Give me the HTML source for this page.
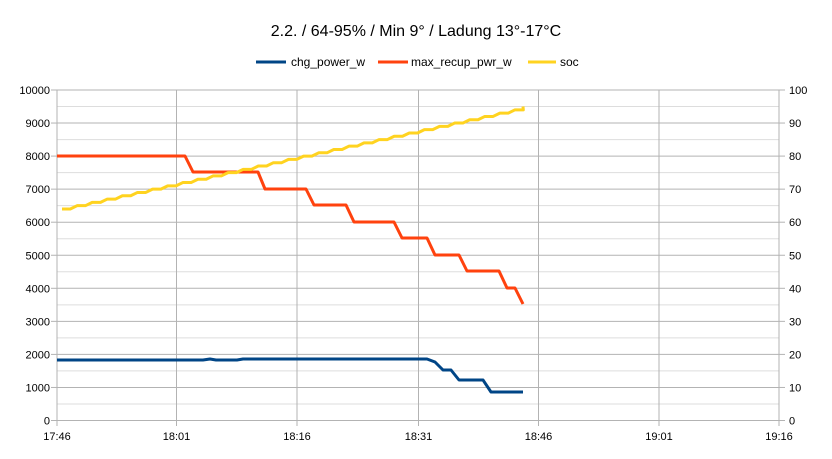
<!DOCTYPE html>
<html><head><meta charset="utf-8"><style>
body{margin:0;background:#fff;}
svg text{font-family:"Liberation Sans",sans-serif;fill:#000;}
</style></head><body>
<svg id="s" width="832" height="454" xmlns="http://www.w3.org/2000/svg">
<rect width="832" height="454" fill="#fff"/>
<text x="416" y="36" font-size="16" text-anchor="middle">2.2. / 64-95% / Min 9° / Ladung 13°-17°C</text>
<line x1="256" y1="62" x2="286" y2="62" stroke="#004586" stroke-width="3"/>
<text x="291" y="66" font-size="12">chg_power_w</text>
<line x1="378" y1="62" x2="408" y2="62" stroke="#ff420e" stroke-width="3"/>
<text x="411" y="66" font-size="12">max_recup_pwr_w</text>
<line x1="528" y1="62" x2="556" y2="62" stroke="#ffd320" stroke-width="3"/>
<text x="560" y="66" font-size="12">soc</text>
<g id="grid"></g>
<polyline fill="none" stroke="#004586" stroke-width="3" stroke-linejoin="round" points="57,360 203,360 210,359 216,360 237,360 243,359 427,359 435,362 443,370 451,370 459,380 483,380 491,392 499,392 523,392"/>
<polyline fill="none" stroke="#ff420e" stroke-width="3" stroke-linejoin="round" points="57,156 185,156 193,172 258,172 265,189 306,189 314,205 346,205 354,222 394,222 402,238 427,238 435,255 459,255 467,271 499,271 507,288 515,288 523,304"/>
<polyline id="soc" fill="none" stroke="#ffd320" stroke-width="3" stroke-linejoin="round" points=""/>
</svg>
<script>
var g=document.getElementById('grid'),h='';
var y0=420.5,py=3.305;
for(var i=0;i<=20;i++){var y=y0-i*16.525;var maj=i%2==0;
h+='<line x1="57" x2="779" y1="'+y+'" y2="'+y+'" stroke="'+(maj?'#b3b3b3':'#dddddd')+'" stroke-width="1"/>';
if(maj){var v=i*500;h+='<text x="50" y="'+(y+4)+'" font-size="11" text-anchor="end">'+v+'</text>';
h+='<line x1="51" x2="57" y1="'+y+'" y2="'+y+'" stroke="#b3b3b3"/><line x1="779" x2="785" y1="'+y+'" y2="'+y+'" stroke="#b3b3b3"/>';
h+='<text x="789" y="'+(y+4)+'" font-size="11">'+(v/100)+'</text>';}}
var xs=[57,176.5,297,418.5,538.5,659,779],lb=['17:46','18:01','18:16','18:31','18:46','19:01','19:16'];
for(var j=0;j<7;j++){h+='<line x1="'+xs[j]+'" x2="'+xs[j]+'" y1="90" y2="426" stroke="#b3b3b3"/>';
h+='<text x="'+xs[j]+'" y="440" font-size="11" text-anchor="middle">'+lb[j]+'</text>';}
g.innerHTML=h;
var p=[],x=62,s=64,step=(515-62)/30;
for(var k=0;k<31;k++){var yy=y0-s*py;var xa=62+k*step;p.push(xa+','+yy);p.push((xa+step*0.55)+','+yy);s++;}
p.push('523,'+(y0-95*py));
document.getElementById('soc').setAttribute('points',p.join(' '));
</script>
</body></html>
